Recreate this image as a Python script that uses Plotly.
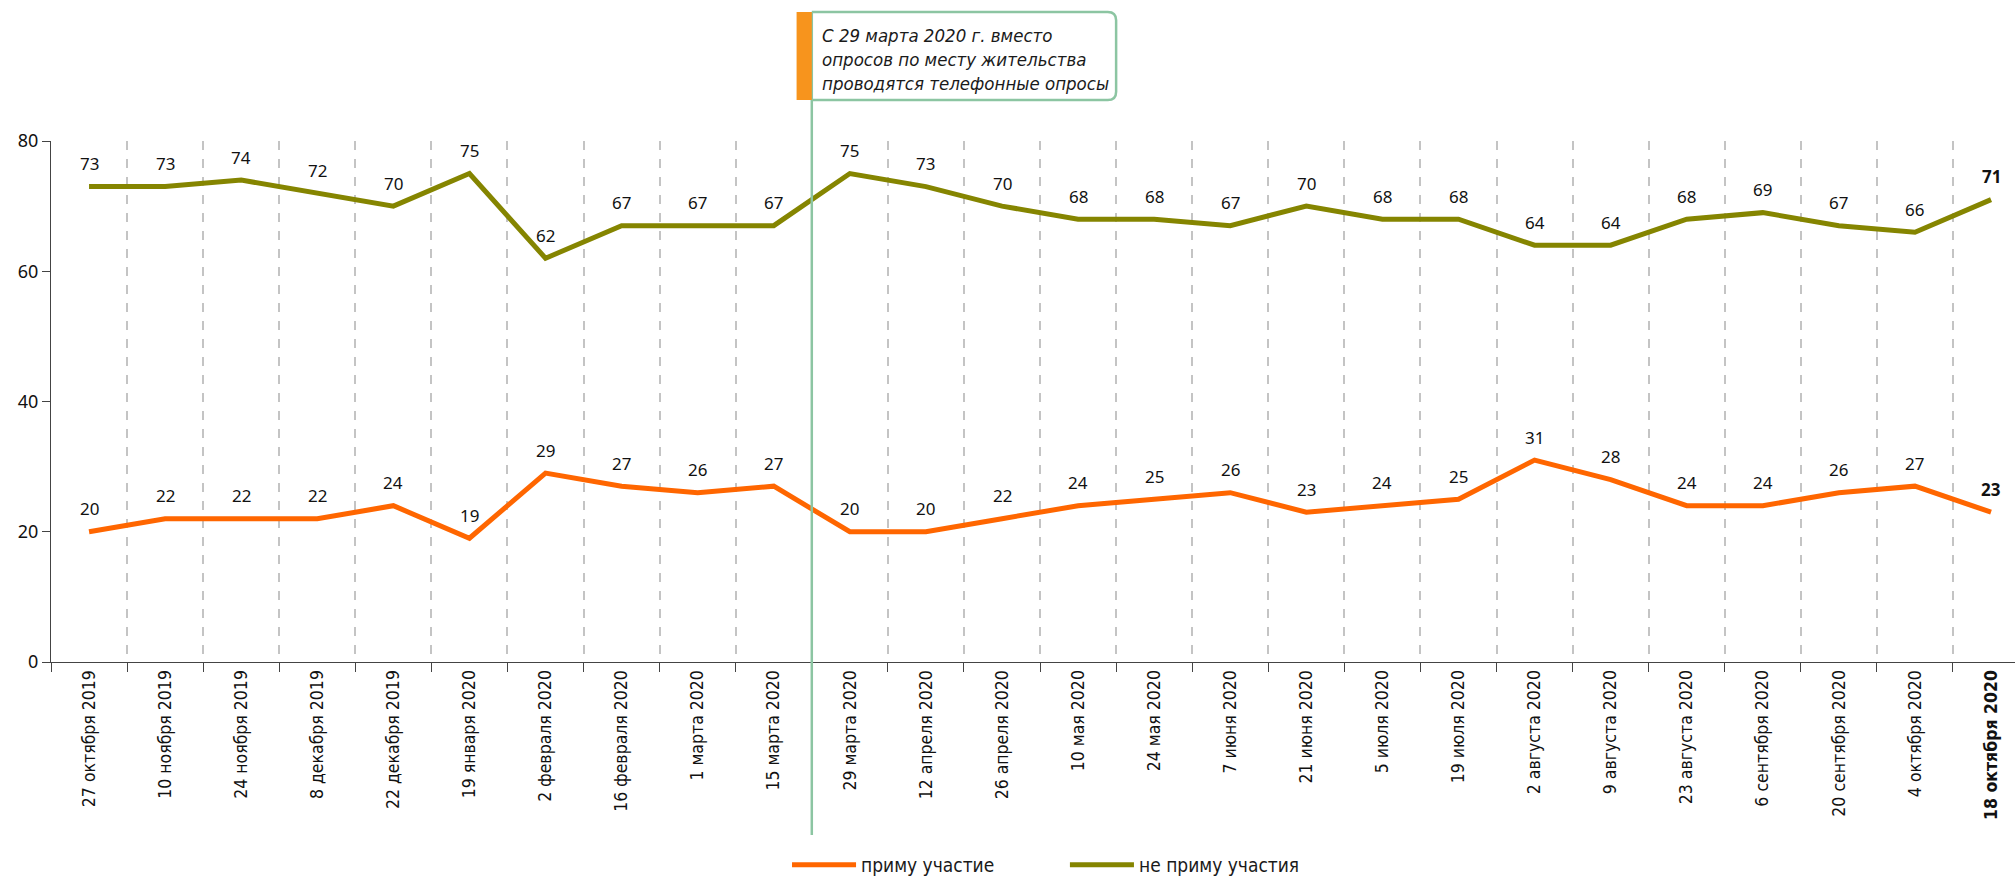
import plotly.graph_objects as go

categories = [
    "27 октября 2019", "10 ноября 2019", "24 ноября 2019", "8 декабря 2019",
    "22 декабря 2019", "19 января 2020", "2 февраля 2020", "16 февраля 2020",
    "1 марта 2020", "15 марта 2020", "29 марта 2020", "12 апреля 2020",
    "26 апреля 2020", "10 мая 2020", "24 мая 2020", "7 июня 2020",
    "21 июня 2020", "5 июля 2020", "19 июля 2020", "2 августа 2020",
    "9 августа 2020", "23 августа 2020", "6 сентября 2020", "20 сентября 2020",
    "4 октября 2020", "18 октября 2020",
]
will_take_part = [20, 22, 22, 22, 24, 19, 29, 27, 26, 27, 20, 20, 22, 24, 25, 26,
                  23, 24, 25, 31, 28, 24, 24, 26, 27, 23]
will_not_take_part = [73, 73, 74, 72, 70, 75, 62, 67, 67, 67, 75, 73, 70, 68, 68, 67,
                      70, 68, 68, 64, 64, 68, 69, 67, 66, 71]
series_names = ["приму участие", "не приму участия"]
note_text = "С 29 марта 2020 г. вместо<br>опросов по месту жительства<br>проводятся телефонные опросы"
y_ticks = [0, 20, 40, 60, 80]

ORANGE = "#ff6600"
OLIVE = "#858500"
GREEN = "#8cc5a2"
NARROW = "Liberation Sans Narrow, DejaVu Sans Condensed, sans-serif"
LABEL_FONT = "Noto Sans, DejaVu Sans, sans-serif"

n = len(categories)
tick_text = categories[:-1] + [f"<b>{categories[-1]}</b>"]

fig = go.Figure()
for vals, name, color in [(will_take_part, series_names[0], ORANGE),
                          (will_not_take_part, series_names[1], OLIVE)]:
    fig.add_trace(go.Scatter(x=categories, y=vals, mode="lines", name=name,
                             line=dict(color=color, width=5), hoverinfo="x+y",
                             showlegend=False))

annotations = []
for vals in (will_take_part, will_not_take_part):
    for i, (c, v) in enumerate(zip(categories, vals)):
        txt = f"<b>{v}</b>" if i == n - 1 else str(v)
        annotations.append(dict(x=c, y=v, xref="x", yref="y", text=txt, showarrow=False,
                                yshift=23, font=dict(family=LABEL_FONT, size=17, color="#111")))

# note box
annotations.append(dict(x=9.5, y=1.1555, xref="x", yref="paper", text=f"<i>{note_text}</i>",
                        showarrow=False, xanchor="left", yanchor="middle", align="left",
                        xshift=8, font=dict(family=NARROW, size=18.5, color="#1a1a1a")))

top, bot = 1.2476, 1.0787
x0, x1 = 9.5, 13.5
rx, ry = 0.11, 0.016
box_path = (f"M {x0},{top} L {x1-rx},{top} Q {x1},{top} {x1},{top-ry} "
            f"L {x1},{bot+ry} Q {x1},{bot} {x1-rx},{bot} L {x0},{bot}")
shapes = [
    dict(type="path", xref="x", yref="paper", path=box_path,
         line=dict(color=GREEN, width=2.5), fillcolor="rgba(0,0,0,0)", layer="above"),
    dict(type="line", xref="x", yref="paper", x0=9.5, x1=9.5, y0=top, y1=-0.332,
         line=dict(color=GREEN, width=2.5), layer="above"),
    dict(type="rect", xref="x", yref="paper", x0=9.3, x1=9.5, y0=bot, y1=top,
         fillcolor="#f7941d", line=dict(width=0), layer="above"),
]

# custom legend (line swatches + text), positions in paper coordinates
legend_y = -0.389
legend_items = [(series_names[0], ORANGE, 0.3773, 0.4099),
                (series_names[1], OLIVE, 0.5188, 0.5514)]
for name, color, lx0, lx1 in legend_items:
    shapes.append(dict(type="line", xref="paper", yref="paper", x0=lx0, x1=lx1,
                       y0=legend_y, y1=legend_y, line=dict(color=color, width=5)))
    annotations.append(dict(x=lx1, y=legend_y, xref="paper", yref="paper", text=name,
                            showarrow=False, xanchor="left", yanchor="middle", xshift=3,
                            font=dict(family=NARROW, size=19, color="#1a1a1a")))

fig.update_layout(
    width=2015, height=877,
    margin=dict(l=51, r=0, t=141, b=215),
    plot_bgcolor="white", paper_bgcolor="white",
    showlegend=False,
    annotations=annotations,
    shapes=shapes,
)
fig.update_xaxes(
    type="category", range=[-0.5, 25.315], automargin=False,
    tickmode="array", tickvals=categories, ticktext=tick_text,
    tickson="boundaries", ticks="outside", ticklen=9, tickcolor="#444",
    tickangle=-90, tickfont=dict(family=NARROW, size=17.5, color="#111"),
    showline=True, linecolor="#444", linewidth=1.2,
    showgrid=True, gridcolor="#c4c4c4", griddash="dash", gridwidth=1.5,
)
fig.update_yaxes(
    range=[0, 80], tickvals=y_ticks, ticks="outside", ticklen=8, tickcolor="#444",
    automargin=False,
    showline=True, linecolor="#444", linewidth=1.2, showgrid=False, zeroline=False,
    tickfont=dict(family=LABEL_FONT, size=18, color="#111"),
)

fig.write_html("out.html", config={"displayModeBar": False},
               post_script="document.body.style.margin='0';document.body.style.overflow='hidden';")
